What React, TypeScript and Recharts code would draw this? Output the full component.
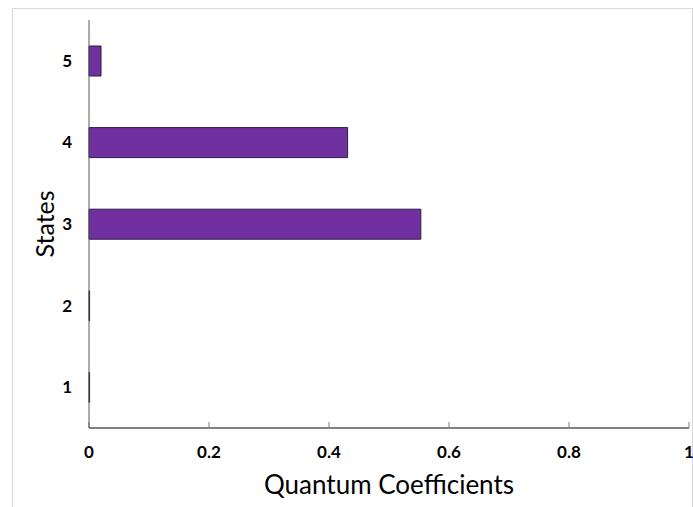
import { BarChart, Bar, XAxis, YAxis, Label } from 'recharts';

const states = ['1', '2', '3', '4', '5'];
const coefficients = [0.001, 0.001, 0.553, 0.431, 0.02];
const xTicks = [0, 0.2, 0.4, 0.6, 0.8, 1];

const data = states.map((s, i) => ({ state: s, value: coefficients[i] }));

const FONT = 'Lato, "Open Sans", sans-serif';

export default function App() {
  return (
    <div style={{ position: 'absolute', left: 0, top: 0, width: 693, height: 507, overflow: 'hidden', background: '#fff' }}>
      <div
        style={{
          position: 'absolute',
          left: 12,
          top: 8,
          width: 679,
          height: 520,
          border: '1px solid #d9d9d9',
        }}
      />
      <div style={{ position: 'absolute', left: 0, top: 0 }}>
        <BarChart
          width={693}
          height={507}
          data={data}
          layout="vertical"
          margin={{ top: 20, right: 4, left: 29, bottom: 0 }}
        >
          <XAxis
            type="number"
            domain={[0, 1]}
            ticks={xTicks}
            tickFormatter={(v: number) => String(v)}
            height={79}
            axisLine={{ stroke: '#808080', strokeWidth: 2 }}
            tickLine={{ stroke: '#808080', strokeWidth: 1 }}
            tickSize={-6}
            tickMargin={24}
            tick={{ fill: '#000', fontSize: 17, fontWeight: 700, fontFamily: FONT }}
            interval={0}
          >
            <Label
              content={({ viewBox }: any) => (
                <text
                  x={viewBox.x + viewBox.width / 2}
                  y={494}
                  textAnchor="middle"
                  fontSize={26}
                  fontFamily={FONT}
                  fill="#000"
                >
                  Quantum Coefficients
                </text>
              )}
            />
          </XAxis>
          <YAxis
            type="category"
            dataKey="state"
            reversed
            width={60}
            axisLine={{ stroke: '#595959', strokeWidth: 1 }}
            tickLine={false}
            tickSize={0}
            tickMargin={17}
            tick={{ fill: '#000', fontSize: 17, fontWeight: 700, fontFamily: FONT }}
          >
            <Label
              content={({ viewBox }: any) => {
                const cy = viewBox.y + viewBox.height / 2;
                return (
                  <text
                    x={44}
                    y={cy}
                    transform={`rotate(-90, 44, ${cy})`}
                    textAnchor="middle"
                    dominantBaseline="central"
                    fontSize={25}
                    fontFamily={FONT}
                    fill="#000"
                  >
                    States
                  </text>
                );
              }}
            />
          </YAxis>
          <Bar
            dataKey="value"
            fill="#7030A0"
            stroke="#2e1a47"
            strokeWidth={1}
            barSize={30}
            isAnimationActive={false}
          />
        </BarChart>
      </div>
    </div>
  );
}
